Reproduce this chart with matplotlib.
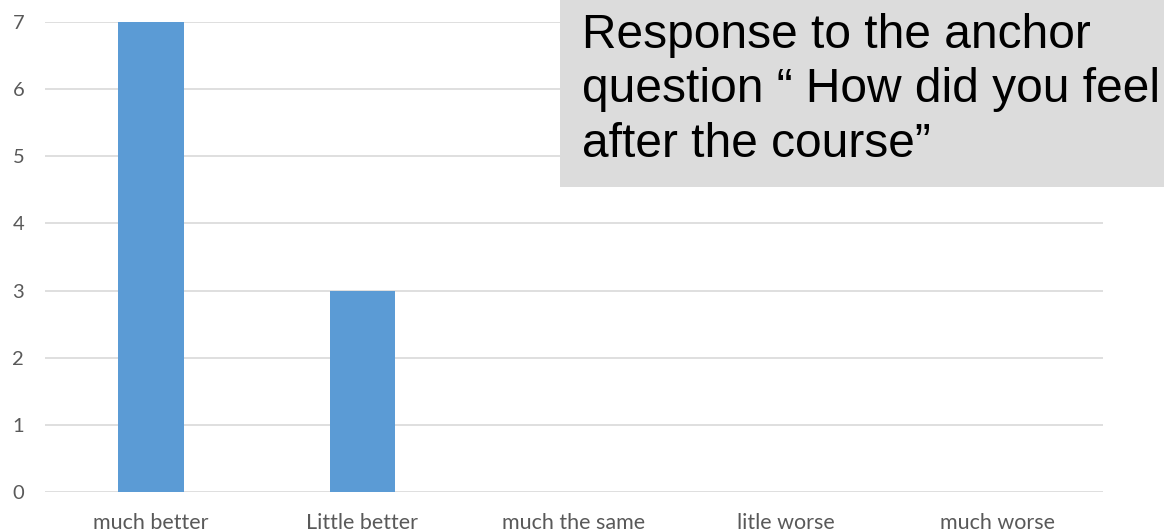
import matplotlib.pyplot as plt
from matplotlib.patches import Rectangle

categories = ["much better", "Little better", "much the same", "litle worse", "much worse"]
counts = [7, 3, 0, 0, 0]

title_text = "Response to the anchor\nquestion \u201c How did you feel\nafter the course\u201d"

fig = plt.figure(figsize=(11.64, 5.32), dpi=100)
ax = fig.add_axes([45 / 1164, 40 / 532, (1103 - 45) / 1164, 470 / 532])

x = range(len(categories))
ax.bar(x, counts, width=0.31, color="#5b9bd5", zorder=3)

ax.set_xlim(-0.5, len(categories) - 0.5)
ax.set_ylim(0, 7)
ax.set_yticks(range(0, 8))
ax.set_xticks(list(x))
ax.set_xticklabels(categories)
ax.yaxis.grid(True, color="#d9d9d9", linewidth=1.2, zorder=0)

for s in ax.spines.values():
    s.set_visible(False)
ax.tick_params(axis="both", length=0, labelcolor="#595959")
ax.tick_params(axis="x", labelsize=15.5, pad=15)
ax.tick_params(axis="y", labelsize=14.5, pad=15)
for lbl in ax.get_xticklabels() + ax.get_yticklabels():
    lbl.set_fontfamily("Lato")

# grey title box in the upper right
fig.patches.append(Rectangle((560 / 1164, 1 - 187 / 532), 1 - 560 / 1164, 187 / 532,
                             transform=fig.transFigure, facecolor="#dcdcdc",
                             edgecolor="none", zorder=5))
fig.text(582 / 1164, 1 - 13 / 532, title_text, fontsize=34.5, family="Liberation Sans",
         color="black", va="top", ha="left", linespacing=1.27, zorder=6)

fig.savefig("out.png", dpi=100)
